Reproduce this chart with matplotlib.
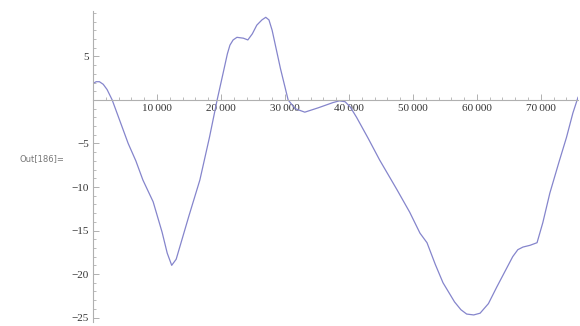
import matplotlib.pyplot as plt
from matplotlib.ticker import MultipleLocator, FixedLocator

# sampled series (step index vs. accumulated value)
steps = [0, 500, 1000, 1600, 2200, 3000, 4200, 5500, 6700, 7800, 9400,
         10800, 11600, 12300, 13000, 13600, 15000, 16700, 18200, 19400,
         20400, 21000, 21400, 21900, 22500, 23500, 24200, 24900, 25600,
         26400, 27000, 27500, 28000, 29300, 30500, 31600, 33100, 35200,
         37500, 38500, 39400, 40200, 41200, 43000, 44800, 47500, 49500,
         51100, 52200, 53500, 54700, 56500, 57500, 58400, 59500, 60500,
         61800, 63100, 65600, 66400, 67200, 68300, 69400, 70300, 71400,
         72800, 74000, 75000, 75800]
values = [1.9, 2.1, 2.1, 1.8, 1.2, 0.0, -2.4, -5.0, -7.0, -9.2, -11.7,
          -15.2, -17.6, -19.0, -18.3, -16.8, -13.3, -9.2, -4.3, 0.0, 3.3,
          5.3, 6.3, 6.9, 7.2, 7.1, 6.9, 7.6, 8.6, 9.2, 9.5, 9.2, 8.0, 3.6,
          0.0, -1.0, -1.4, -0.9, -0.3, -0.1, -0.2, -0.8, -2.0, -4.4, -6.9,
          -10.3, -12.9, -15.3, -16.4, -18.9, -21.0, -23.2, -24.1, -24.6,
          -24.7, -24.5, -23.4, -21.5, -18.0, -17.2, -16.9, -16.7, -16.4,
          -14.1, -10.7, -7.2, -4.3, -1.5, 0.3]

xticks = [10000, 20000, 30000, 40000, 50000, 60000, 70000]
xticklabels = ['10\u2009000', '20\u2009000', '30\u2009000', '40\u2009000',
               '50\u2009000', '60\u2009000', '70\u2009000']
yticks = [-25, -20, -15, -10, -5, 5]
yticklabels = ['\u221225', '\u221220', '\u221215', '\u221210', '\u22125', '5']

axis_col = '#b0b0b0'
label_col = '#333333'

fig = plt.figure(figsize=(5.8, 3.26), dpi=100)
ax = fig.add_axes([93 / 580, 0.0126, 485 / 580, 0.953])
ax.plot(steps, values, color='#8585cc', lw=0.9, solid_joinstyle='round')

ax.set_xlim(0, 75800)
ax.set_ylim(-25.5, 10.2)

# axes through the origin
for side in ['top', 'right']:
    ax.spines[side].set_visible(False)
ax.spines['left'].set_position(('data', 0))
ax.spines['bottom'].set_position(('data', 0))
for side in ['left', 'bottom']:
    ax.spines[side].set_color(axis_col)
    ax.spines[side].set_linewidth(0.8)

ax.xaxis.set_major_locator(FixedLocator(xticks))
ax.xaxis.set_minor_locator(MultipleLocator(2000))
ax.yaxis.set_major_locator(FixedLocator(yticks))
ax.yaxis.set_minor_locator(MultipleLocator(1))
ax.set_xticklabels(xticklabels)
ax.set_yticklabels(yticklabels)

ax.tick_params(axis='both', which='major', direction='in', length=4,
               width=0.7, color=axis_col, labelsize=8, labelcolor=label_col)
ax.tick_params(axis='both', which='minor', direction='in', length=2,
               width=0.6, color=axis_col)
ax.tick_params(axis='x', pad=3)
ax.tick_params(axis='y', pad=3)
for lab in ax.get_xticklabels() + ax.get_yticklabels():
    lab.set_family(['Liberation Serif', 'DejaVu Serif'])

fig.text(20 / 580, 1 - 159 / 326, 'Out[186]=', fontsize=6, color='#777777',
         family='DejaVu Sans', va='center', ha='left')

fig.savefig('out.png', dpi=100)
